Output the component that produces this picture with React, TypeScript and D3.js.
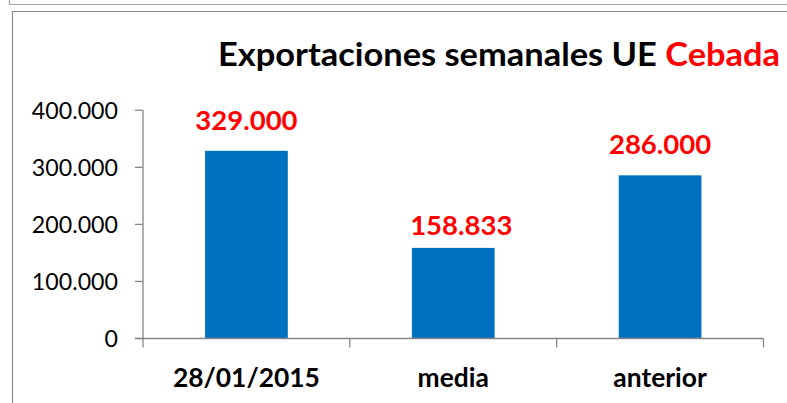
import React from "react";
import * as d3 from "d3";

const categories = ["28/01/2015", "media", "anterior"];
const values = [329000, 158833, 286000];
const valueLabels = ["329.000", "158.833", "286.000"];
const yTicks = [0, 100000, 200000, 300000, 400000];
const yTickLabels = ["0", "100.000", "200.000", "300.000", "400.000"];
const titleBlack = "Exportaciones semanales UE ";
const titleRed = "Cebada";

// label nudges (style, not data)
const labelDx = [0, 8, 0];
const labelDy = [-21, -13, -21];

const W = 787;
const H = 403;
const FONT = "Lato, 'Open Sans', sans-serif";

export default function App() {
  const x = d3.scaleBand<string>().domain(categories).range([143, 763.5]).paddingInner(0.6).paddingOuter(0.3);
  const y = d3.scaleLinear().domain([0, 400000]).range([338.5, 110.3]);
  const axisColor = "#868686";
  const bounds = [143, ...categories.map((c) => (x(c) as number) + x.bandwidth() + x.step() * 0.3)];

  return (
    <svg width={W} height={H} style={{ position: "absolute", left: 0, top: 0, background: "#fff" }} fontFamily={FONT}>
      <rect x={0} y={0} width={W} height={H} fill="#fff" />
      {/* frames */}
      <path d={`M9.5,0 V4.5 H${W}`} fill="none" stroke="#a6a6a6" strokeWidth={1.2} />
      <path d={`M12.5,${H} V11.5 H${W}`} fill="none" stroke="#8c8c8c" strokeWidth={1.2} />

      {/* title */}
      <text x={218} y={66} fontSize={31.5} fontWeight={700} fill="#000" textLength={562} lengthAdjust="spacingAndGlyphs">
        <tspan>{titleBlack}</tspan>
        <tspan fill="#ff0000">{titleRed}</tspan>
      </text>

      {/* bars */}
      {values.map((v, i) => (
        <rect
          key={categories[i]}
          x={x(categories[i])}
          y={y(v)}
          width={x.bandwidth()}
          height={y(0) - y(v)}
          fill="#0070C0"
        />
      ))}

      {/* value labels */}
      {values.map((v, i) => (
        <text
          key={"l" + i}
          x={(x(categories[i]) as number) + x.bandwidth() / 2 + labelDx[i]}
          y={y(v) + labelDy[i]}
          textAnchor="middle"
          fontSize={27.5}
          fontWeight={700}
          fill="#ff0000"
        >
          {valueLabels[i]}
        </text>
      ))}

      {/* y axis */}
      <line x1={143} x2={143} y1={y(400000)} y2={y(0)} stroke={axisColor} strokeWidth={1.3} />
      {yTicks.map((t, i) => (
        <g key={"t" + t}>
          <line x1={135} x2={143} y1={y(t)} y2={y(t)} stroke={axisColor} strokeWidth={1.3} />
          <text x={118} y={y(t)} dy="0.36em" textAnchor="end" fontSize={23.2} fill="#000">
            {yTickLabels[i]}
          </text>
        </g>
      ))}

      {/* x axis */}
      <line x1={135} x2={763.5} y1={y(0)} y2={y(0)} stroke={axisColor} strokeWidth={1.3} />
      {bounds.map((b, i) => (
        <line key={"b" + i} x1={b} x2={b} y1={y(0)} y2={y(0) + 9} stroke={axisColor} strokeWidth={1.3} />
      ))}
      {categories.map((c) => (
        <text
          key={"c" + c}
          x={(x(c) as number) + x.bandwidth() / 2}
          y={386.5}
          textAnchor="middle"
          fontSize={26.4}
          fontWeight={700}
          fill="#000"
        >
          {c}
        </text>
      ))}
    </svg>
  );
}
